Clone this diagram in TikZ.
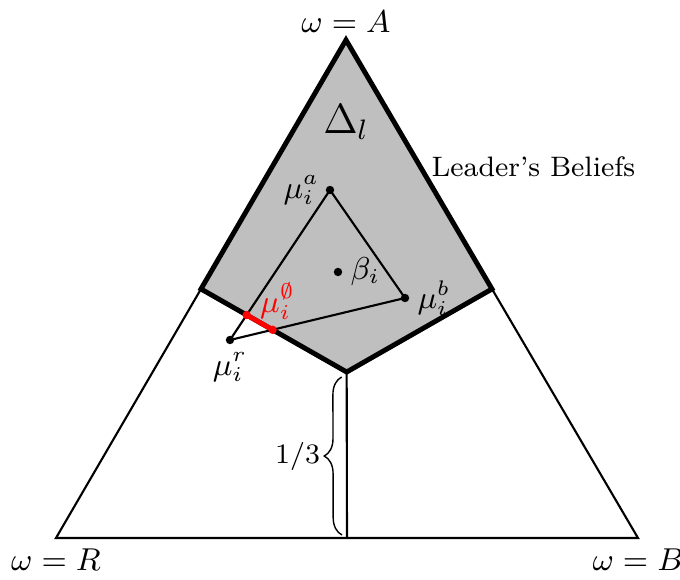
\documentclass[tikz,border=0pt]{standalone}
\usepackage{tikz}
\usetikzlibrary{positioning, calc, decorations.pathreplacing}
\definecolor{leadergray}{HTML}{BFBFBF}

\tikzset{
  simplex/.style={draw=black, line width=0.6pt},
  leaderset/.style={draw=black, fill=leadergray, line width=1.4pt, line join=miter},
  beliefline/.style={draw=black, line width=0.6pt},
  dot/.style={circle, fill=black, inner sep=0pt, minimum size=2.4pt},
  reddot/.style={dot, fill=red},
  lbl/.style={inner sep=1pt, font=\small},
}

\begin{document}
\begin{tikzpicture}
    \useasboundingbox (0,0) rectangle (6.8,5.8);
    % corners of the simplex
    \coordinate (A) at (3.46,5.40);
    \coordinate (R) at (0.56,0.42);
    \coordinate (B) at (6.38,0.42);
    \coordinate (AR) at ($(A)!0.5!(R)$);
    \coordinate (AB) at ($(A)!0.5!(B)$);
    \coordinate (RB) at ($(R)!0.5!(B)$);
    \coordinate (C) at ($(A)!0.6667!(RB)$);

    \draw[simplex] (A) -- (R) -- (B) -- cycle;
    \draw[simplex] (C) -- (RB);
    \filldraw[leaderset] (A) -- (AB) -- (C) -- (AR) -- cycle;

    % beliefs
    \coordinate (ma) at (3.30,3.90);
    \coordinate (mb) at (4.05,2.82);
    \coordinate (mr) at (2.30,2.40);
    \coordinate (bt) at (3.38,3.08);
    \coordinate (e1) at (intersection of mr--ma and AR--C);
    \coordinate (e2) at (intersection of mr--mb and AR--C);

    \draw[beliefline] (mr) -- (ma) -- (mb) -- cycle;
    \draw[red, line width=1.4pt] (e1) -- (e2);

    \node[dot] (mua) at (ma) {};
    \node[dot] (mub) at (mb) {};
    \node[dot] (mur) at (mr) {};
    \node[dot] (beta) at (bt) {};
    \node[reddot] (mue1) at (e1) {};
    \node[reddot] (mue2) at (e2) {};

    \node[lbl, left=0.5pt of mua] (muaLabel) {$\mu_i^a$};
    \node[lbl, right=1pt of mub] (mubLabel) {$\mu_i^b$};
    \node[lbl, below=1pt of mur] (murLabel) {$\mu_i^r$};
    \node[lbl, right=1pt of beta] (betaLabel) {$\beta_i$};
    \node[lbl, text=red] (mueLabel) at ($(e1)!0.5!(e2)+(0.18,0.21)$) {$\mu_i^\emptyset$};

    % labels of the corners
    \node[lbl, above=1pt of A] (omegaA) {$\omega = A$};
    \node[lbl, below=2pt of R] (omegaR) {$\omega = R$};
    \node[lbl, below=2pt of B] (omegaB) {$\omega = B$};
    \node[font=\large] (deltaL) at ($(A)+(0,-0.82)$) {$\Delta_l$};
    \node[lbl, font=\footnotesize, anchor=west] (leader) at ($(A)!0.51!(AB)+(0.07,0)$) {Leader's Beliefs};

    % one third
    \coordinate (br1) at ($(RB)+(-0.05,0.03)$);
    \coordinate (br2) at ($(C)+(-0.05,-0.05)$);
    \draw[decorate, decoration={brace, amplitude=5pt}] (br1) -- (br2)
      node[lbl, font=\footnotesize, midway, left=5pt] (third) {$1/3$};
\end{tikzpicture}
\end{document}
